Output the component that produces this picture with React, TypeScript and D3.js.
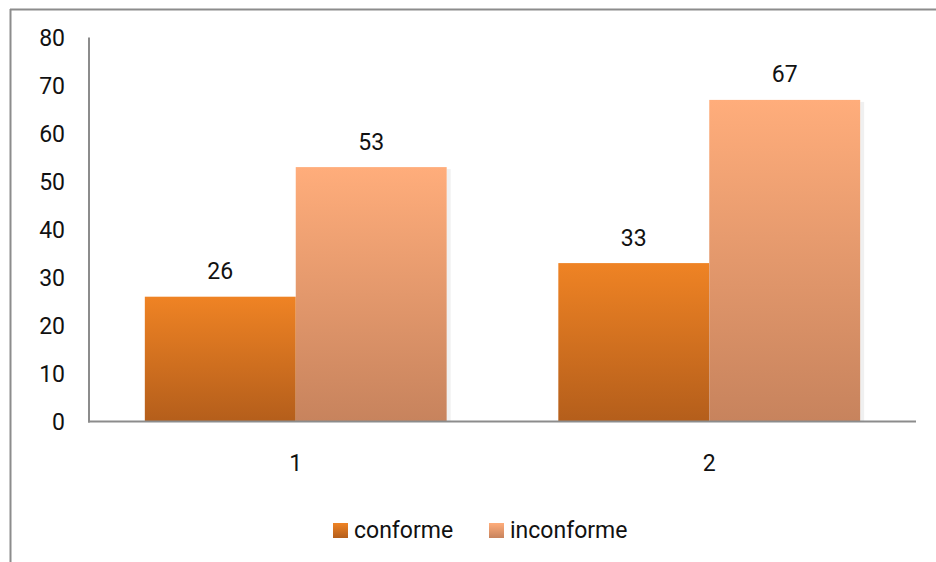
import React from "react";
import * as d3 from "d3";

const categories = ["1", "2"];
const seriesNames = ["conforme", "inconforme"];
const conforme = [26, 33];
const inconforme = [53, 67];
const yTicks = [0, 10, 20, 30, 40, 50, 60, 70, 80];

const W = 936;
const H = 562;
const FONT = "Roboto, 'Open Sans', sans-serif";
const FS = 23;

export default function App() {
  const left = 89, right = 916, top = 37.5, bottom = 421.5;
  const x0 = d3.scaleBand<string>().domain(categories).range([left, right]).paddingInner(0.27).paddingOuter(0.135);
  const x1 = d3.scaleBand<string>().domain(seriesNames).range([0, x0.bandwidth()]);
  const y = d3.scaleLinear().domain([0, 80]).range([bottom, top]);
  const series = [conforme, inconforme];
  const grads = [
    ["#EF8324", "#B45E1B"],
    ["#FFAD7B", "#C7835D"],
  ];
  return (
    <div style={{ position: "absolute", left: 0, top: 0, width: W, height: H, background: "#fff" }}>
      <svg width={W} height={H} style={{ display: "block" }}>
        <defs>
          {grads.map((g, i) => (
            <linearGradient key={i} id={`g${i}`} x1="0" y1="0" x2="0" y2="1">
              <stop offset="0" stopColor={g[0]} />
              <stop offset="1" stopColor={g[1]} />
            </linearGradient>
          ))}
        </defs>
        {/* outer frame */}
        <line x1={10.5} y1={9} x2={10.5} y2={H} stroke="#8c8c8c" strokeWidth={2} />
        <line x1={10} y1={9.5} x2={W} y2={9.5} stroke="#8c8c8c" strokeWidth={2} />

        {/* bars */}
        {categories.map((c, ci) =>
          seriesNames.map((s, si) => {
            const v = series[si][ci];
            const bx = (x0(c) ?? 0) + (x1(s) ?? 0);
            const bw = x1.bandwidth();
            return (
              <g key={c + s}>
                <rect x={bx + bw} y={y(v) + 2} width={4} height={bottom - y(v) - 2} fill="#000" opacity={0.06} />
                <rect x={bx} y={y(v)} width={bw} height={bottom - y(v)} fill={`url(#g${si})`} />
                <text x={bx + bw / 2} y={y(v) - 17.5} textAnchor="middle" fontFamily={FONT} fontSize={FS} fill="#111">
                  {v}
                </text>
              </g>
            );
          })
        )}

        {/* axes */}
        <line x1={left} y1={top} x2={left} y2={bottom + 1} stroke="#8c8c8c" strokeWidth={2} />
        <line x1={left - 1} y1={bottom} x2={right} y2={bottom} stroke="#8c8c8c" strokeWidth={2} />
        {yTicks.map((t) => (
          <text key={t} x={65} y={y(t) + 8.5} textAnchor="end" fontFamily={FONT} fontSize={FS} fill="#111">
            {t}
          </text>
        ))}
        {categories.map((c) => (
          <text key={c} x={(x0(c) ?? 0) + x0.bandwidth() / 2} y={471} textAnchor="middle" fontFamily={FONT} fontSize={FS} fill="#111">
            {c}
          </text>
        ))}

        {/* legend */}
        {seriesNames.map((s, i) => {
          const lx = i === 0 ? 333 : 489;
          return (
            <g key={s}>
              <rect x={lx} y={523} width={15} height={15} fill={`url(#g${i})`} />
              <text x={lx + 21} y={538} fontFamily={FONT} fontSize={FS} fill="#111">
                {s}
              </text>
            </g>
          );
        })}
      </svg>
    </div>
  );
}
